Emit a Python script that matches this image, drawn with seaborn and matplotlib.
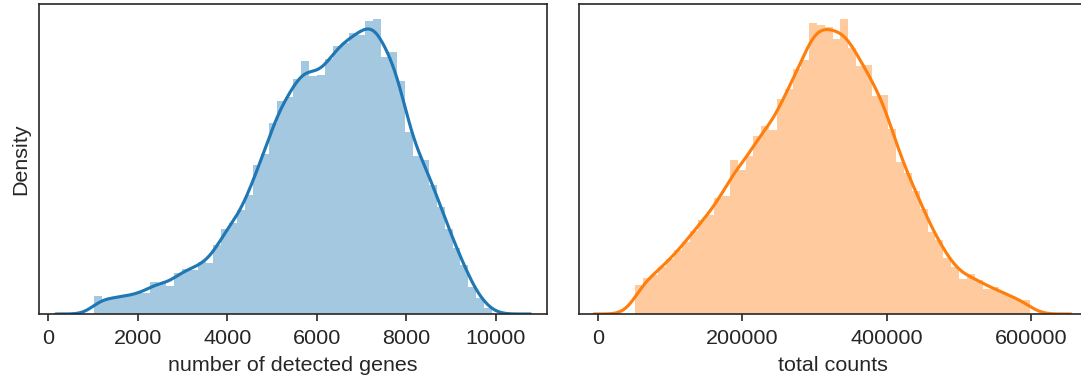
import numpy as np
import pandas as pd
import matplotlib
matplotlib.use("Agg")
import matplotlib.pyplot as plt
import seaborn as sns

# bin ranges (50 equal bins each)
genes_range = (1020, 9925)
counts_range = (51200, 599200)

# bar heights (relative density, same units for both panels)
genes_hist = [54, 42, 50, 52, 56, 62, 64, 96, 94, 84,
              122, 136, 132, 157, 152, 207, 254, 272, 312, 357,
              447, 480, 572, 639, 649, 704, 759, 712, 716, 764,
              804, 812, 842, 837, 879, 885, 769, 784, 697, 547,
              475, 462, 387, 322, 256, 197, 147, 80, 47, 17]
counts_hist = [87, 109, 117, 142, 164, 192, 217, 250, 282, 297,
               349, 354, 462, 432, 474, 534, 564, 552, 645, 674,
               735, 762, 873, 867, 860, 825, 885, 797, 742, 747,
               652, 657, 555, 457, 424, 369, 315, 247, 222, 167,
               142, 104, 120, 102, 75, 82, 62, 54, 42, 42]

# kde bandwidth (data units) of the original curves
genes_bw = 218
counts_bw = 14600

xlabels = ["number of detected genes", "total counts"]
xlims = [(-208, 11146), (-26200, 677200)]


def bw_adjust_for(centers, weights, target):
    w = np.asarray(weights, float)
    neff = w.sum() ** 2 / (w ** 2).sum()
    mean = np.average(centers, weights=w)
    std = np.sqrt(np.average((centers - mean) ** 2, weights=w))
    return target / (std * neff ** (-0.2))


def panel(ax, rng, heights, bw, color):
    edges = np.linspace(rng[0], rng[1], len(heights) + 1)
    df = pd.DataFrame({"x": (edges[:-1] + edges[1:]) / 2, "w": heights})
    sns.histplot(df, x="x", weights="w", bins=len(heights), binrange=rng,
                 stat="density", color=color, alpha=0.4, linewidth=0, ax=ax)
    sns.kdeplot(df, x="x", weights="w", cut=3, color=color, linewidth=1.5,
                bw_adjust=bw_adjust_for(df["x"].values, heights, bw), ax=ax)


sns.set_style("ticks")
plt.rcParams["font.family"] = ["Liberation Sans", "DejaVu Sans"]
plt.rcParams["font.size"] = 10.3

fig = plt.figure(figsize=(1081 / 150, 382 / 150), dpi=150)
ax1 = fig.add_axes([39 / 1081, 68 / 382, 508 / 1081, 310 / 382])
ax2 = fig.add_axes([578.8 / 1081, 68 / 382, 508 / 1081, 310 / 382])

panel(ax1, genes_range, genes_hist, genes_bw, "C0")
panel(ax2, counts_range, counts_hist, counts_bw, "C1")

for ax, lab, lim in zip([ax1, ax2], xlabels, xlims):
    ax.set_xlim(lim)
    ax.set_yticks([])
    ax.set_xlabel(lab, fontsize=10.3)
    ax.tick_params(axis="x", labelsize=10.3)
    ax.set_ylabel("")
ax1.set_ylabel("Density", fontsize=10.3)
ax1.set_xticks([0, 2000, 4000, 6000, 8000, 10000])
ax2.set_xticks([0, 200000, 400000, 600000])

fig.savefig("out.png", dpi=150)
